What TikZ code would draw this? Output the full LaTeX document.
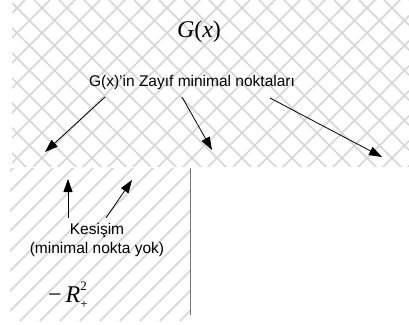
\documentclass[tikz,border=0pt]{standalone}
\usepackage{fontspec}
\setmainfont{Liberation Sans}
\newfontfamily\serif{Liberation Serif}
\usetikzlibrary{arrows.meta}

\tikzset{
  hatchline/.style={draw=black!16, line width=1.5pt},
  border/.style={draw=black!55, line width=1pt},
  pointer/.style={draw=black, line width=0.8pt, -{Triangle[length=13pt,width=9pt]}},
  label/.style={font=\fontsize{15.5}{19}\selectfont, inner sep=0pt, align=center},
  mathlabel/.style={font=\serif\fontsize{24}{26}\selectfont, inner sep=0pt}
}

\begin{document}
\begin{tikzpicture}[x=1pt, y=-1pt]
  \useasboundingbox (0,0) rectangle (409,324);
  \fill[white] (0,0) rectangle (409,324);

  % cross-hatched region G(x)
  \begin{scope}
    \clip (12,0) rectangle (409,166);
    \foreach \a in {-216,-191,...,420}
      \draw[hatchline] (\a,0) -- ++(180,180);
    \foreach \a in {0,25,...,624}
      \draw[hatchline] (\a,0) -- ++(-180,180);
  \end{scope}

  % single-hatched cone -R^2_+
  \begin{scope}
    \clip (10,168) rectangle (190,321);
    \foreach \a in {-160,-140,...,200}
      \draw[hatchline] (\a,321) -- ++(160,-160);
  \end{scope}
  \draw[border] (190,168) -- (190,315);

  % labels
  \node[mathlabel] (gx) at (199,32) {\textit{G}(\textit{x})};
  \node[label] (weak) at (192,82) {G(x)’in Zayıf minimal noktaları};
  \node[label] (cut) at (97,240) {Kesişim\\(minimal nokta yok)};
  \node[mathlabel, anchor=west] (cone) at (48,295)
    {−\,\textit{R}\rlap{\raisebox{1.15ex}{\fontsize{13}{13}\selectfont 2}}\raisebox{-0.5ex}{\fontsize{13}{13}\selectfont +}};

  % arrow end points
  \coordinate (w1) at (105,97);
  \coordinate (w2) at (182,97);
  \coordinate (w3) at (270,98);
  \coordinate (p1) at (45,152);
  \coordinate (p2) at (212,150);
  \coordinate (p3) at (382,157);
  \coordinate (c1) at (68,218);
  \coordinate (c2) at (106,218);
  \coordinate (q1) at (68,179);
  \coordinate (q2) at (132,180);

  \draw[pointer] (w1) -- (p1);
  \draw[pointer] (w2) -- (p2);
  \draw[pointer] (w3) -- (p3);
  \draw[pointer] (c1) -- (q1);
  \draw[pointer] (c2) -- (q2);
\end{tikzpicture}
\end{document}
